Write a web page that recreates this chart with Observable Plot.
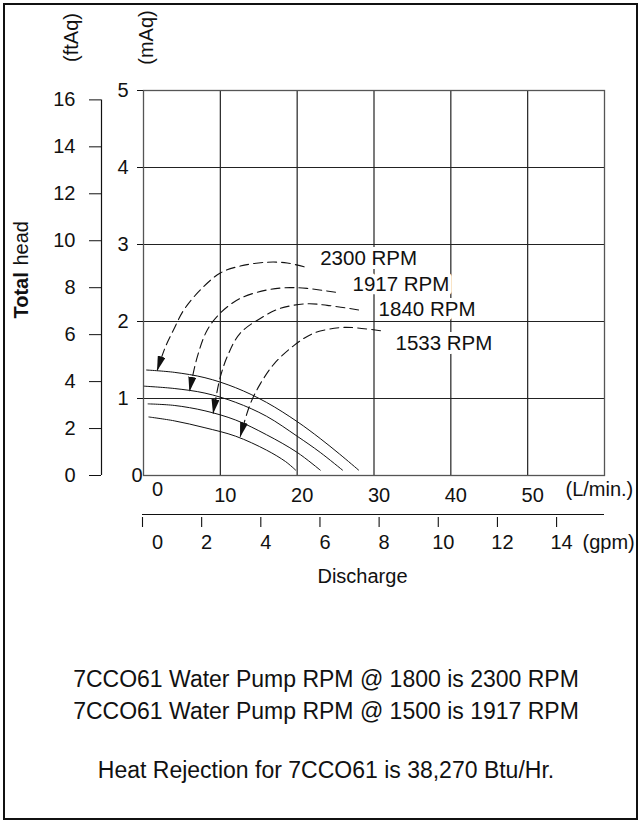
<!DOCTYPE html>
<html><head><meta charset="utf-8">
<script src="https://cdn.jsdelivr.net/npm/d3@7"></script>
<script src="https://cdn.jsdelivr.net/npm/@observablehq/plot@0.6"></script>
<style>
html,body{margin:0;padding:0;background:#fff;}
body{width:642px;height:820px;position:relative;overflow:hidden;font-family:"Liberation Sans",Arial,Helvetica,sans-serif;color:#111;}
.layer{position:absolute;left:0;top:0;}
#border{position:absolute;left:3px;top:3px;width:635px;height:817px;border:2px solid #111;box-sizing:border-box;pointer-events:none;}
.note{position:absolute;left:0;width:652px;text-align:center;font-size:23px;line-height:32px;white-space:nowrap;}
</style></head><body>
<div id="main" class="layer"></div>
<div id="ft" class="layer"></div>
<div id="gpm" class="layer"></div>
<div id="border"></div>
<div id="notes"></div>
<script>
// ---- tick values ----
const lpmTicks = [0, 10, 20, 30, 40, 50];
const gpmTicks = [0, 2, 4, 6, 8, 10, 12, 14];
const mAqTicks = [0, 1, 2, 3, 4, 5];
const ftAqTicks = [0, 2, 4, 6, 8, 10, 12, 14, 16];

// ---- pump curves (discharge L/min, head mAq) ----
const rpmNames = ["2300 RPM", "1917 RPM", "1840 RPM", "1533 RPM"];
const q2300 = [0.4, 4, 8, 12, 16, 20, 23, 25.5, 28.0];
const h2300 = [1.37, 1.34, 1.27, 1.14, 0.95, 0.70, 0.48, 0.28, 0.07];
const q1917 = [0.1, 4, 8, 12, 16, 20, 23, 25.9];
const h1917 = [1.16, 1.13, 1.07, 0.95, 0.77, 0.51, 0.30, 0.07];
const q1840 = [0.6, 4, 8, 12, 16, 20, 23.0];
const h1840 = [0.93, 0.91, 0.84, 0.72, 0.53, 0.30, 0.07];
const q1533 = [0.7, 4, 8, 12, 16, 18.5, 19.8];
const h1533 = [0.76, 0.71, 0.62, 0.51, 0.33, 0.18, 0.07];

// ---- dashed pointer arrows (from label to curve) ----
const aq2300 = [20.9, 18.7, 16.1, 12.6, 10.0, 7.4, 5.25, 3.9, 2.85, 1.8];
const ah2300 = [2.71, 2.76, 2.77, 2.72, 2.63, 2.41, 2.15, 1.89, 1.67, 1.37];
const aq1917 = [25.0, 21.3, 19.1, 16.1, 12.6, 10.0, 8.3, 7.0, 6.0];
const ah1917 = [2.38, 2.43, 2.44, 2.41, 2.30, 2.11, 1.89, 1.54, 1.10];
const aq1840 = [28.0, 23.9, 21.3, 17.8, 15.2, 12.6, 11.1, 10.0, 9.07];
const ah1840 = [2.15, 2.21, 2.23, 2.17, 2.04, 1.85, 1.59, 1.28, 0.81];
const aq1533 = [30.85, 27.4, 25.6, 22.2, 19.6, 17.0, 15.2, 13.9, 12.6];
const ah1533 = [1.88, 1.92, 1.92, 1.85, 1.69, 1.45, 1.19, 0.93, 0.51];

// ---- label anchors ----
const labelQ = [23.0, 27.2, 30.6, 32.8];
const labelH = [2.82, 2.48, 2.155, 1.715];

const notes = [
  "7CCO61 Water Pump RPM @ 1800 is 2300 RPM",
  "7CCO61 Water Pump RPM @ 1500 is 1917 RPM",
  "Heat Rejection for 7CCO61 is 38,270 Btu/Hr."
];

// ---- build tables ----
const curveQ = [q2300, q1917, q1840, q1533];
const curveH = [h2300, h1917, h1840, h1533];
const arrowQ = [aq2300, aq1917, aq1840, aq1533];
const arrowH = [ah2300, ah1917, ah1840, ah1533];
const curves = rpmNames.flatMap((name, i) => curveQ[i].map((q, j) => ({name, q, h: curveH[i][j]})));
const arrows = rpmNames.flatMap((name, i) => arrowQ[i].map((q, j) => ({name, q, h: arrowH[i][j]})));
const labels = rpmNames.map((name, i) => ({name, q: labelQ[i], h: labelH[i]}));

const font = "'Liberation Sans', Arial, Helvetica, sans-serif";
const ink = "#111";
const fmt = d => String(d);
const baseStyle = {fontFamily: font, fontSize: "20px", background: "transparent", overflow: "visible", color: ink};

const main = Plot.plot({
  width: 642, height: 600,
  marginLeft: 143, marginRight: 38, marginTop: 90, marginBottom: 125,
  style: baseStyle,
  x: {domain: [0, 60]},
  y: {domain: [0, 5]},
  marks: [
    Plot.ruleX(lpmTicks.filter(d => d > 0), {x: d => d, stroke: "#222", strokeWidth: 1.2}),
    Plot.ruleY(mAqTicks.filter(d => d > 0 && d < 5), {y: d => d, stroke: "#222", strokeWidth: 1.2}),
    Plot.frame({stroke: "#555", strokeWidth: 1.3}),
    Plot.text(labels, {x: "q", y: "h", text: "name", textAnchor: "start", fontSize: 20.5, fill: ink, stroke: "white", strokeWidth: 8}),
    Plot.line(curves, {x: "q", y: "h", z: "name", curve: "catmull-rom", stroke: ink, strokeWidth: 1}),
    Plot.line(arrows, {x: "q", y: "h", z: "name", curve: "catmull-rom", stroke: ink, strokeWidth: 1.1, strokeDasharray: "9,5"}),
    Plot.axisY(mAqTicks.filter(d => d > 0), {tickSize: 6, tickPadding: 9, tickFormat: fmt, label: null, stroke: ink, fill: ink}),
    Plot.text([0], {y: d => d, text: fmt, frameAnchor: "left", textAnchor: "end", dx: -1, fill: ink}),
    Plot.axisX(lpmTicks.filter(d => d > 0), {tickSize: 0, tickPadding: 12, tickFormat: fmt, dx: 5, label: null, fill: ink}),
    Plot.text([0], {x: d => d, text: fmt, frameAnchor: "bottom", textAnchor: "middle", dy: 20, dx: 14, fill: ink}),
    Plot.text(["(L/min.)"], {text: d => d, frameAnchor: "bottom-right", textAnchor: "start", dx: -39, dy: 20, fill: ink}),
    Plot.text(["(mAq)"], {text: d => d, frameAnchor: "top-left", textAnchor: "middle", rotate: -90, dx: -5, dy: -53, fill: ink})
  ]
});

// filled arrowheads on the dashed pointers
(function addArrowheads(svg) {
  const ns = "http://www.w3.org/2000/svg";
  const defs = document.createElementNS(ns, "defs");
  const m = document.createElementNS(ns, "marker");
  m.setAttribute("id", "ahead");
  m.setAttribute("viewBox", "0 0 15 8");
  m.setAttribute("refX", "14");
  m.setAttribute("refY", "4");
  m.setAttribute("markerWidth", "15");
  m.setAttribute("markerHeight", "8");
  m.setAttribute("markerUnits", "userSpaceOnUse");
  m.setAttribute("orient", "auto");
  const p = document.createElementNS(ns, "path");
  p.setAttribute("d", "M0,0L15,4L0,8Z");
  p.setAttribute("fill", ink);
  p.setAttribute("stroke", "none");
  m.appendChild(p);
  defs.appendChild(m);
  svg.insertBefore(defs, svg.firstChild);
  svg.querySelectorAll("[stroke-dasharray] path").forEach(el => el.setAttribute("marker-end", "url(#ahead)"));
})(main);
document.getElementById("main").appendChild(main);

const ftPlot = Plot.plot({
  width: 642, height: 600,
  marginLeft: 101, marginRight: 0, marginTop: 90, marginBottom: 125,
  style: baseStyle,
  x: {domain: [0, 1], axis: null},
  y: {domain: [0, 16.4]},
  marks: [
    Plot.ruleX([0], {y1: 0, y2: 16, stroke: ink, strokeWidth: 1.2}),
    Plot.axisY(ftAqTicks, {tickSize: 12, tickPadding: 14, tickFormat: fmt, label: null, stroke: ink, fill: ink}),
    Plot.text(["(ftAq)"], {text: d => d, frameAnchor: "top-left", textAnchor: "middle", rotate: -90, dx: -38, dy: -53, fill: ink}),
    Plot.text(["Total"], {text: d => d, frameAnchor: "bottom-left", rotate: -90, textAnchor: "start", dx: -74, dy: -157, fontWeight: "bold", fontSize: 20, fill: ink}),
    Plot.text(["head"], {text: d => d, frameAnchor: "bottom-left", rotate: -90, textAnchor: "start", dx: -74, dy: -210, fontSize: 20, fill: ink})
  ]
});
document.getElementById("ft").appendChild(ftPlot);

const gpmPlot = Plot.plot({
  width: 642, height: 600,
  marginLeft: 142, marginRight: 38, marginTop: 517, marginBottom: 73,
  style: baseStyle,
  x: {domain: [0, 15.62], axis: null},
  y: {domain: [0, 1], axis: null},
  marks: [
    Plot.ruleY([1], {y: d => d, dy: -3, stroke: ink, strokeWidth: 1.2}),
    Plot.tickX(gpmTicks, {x: d => d, stroke: ink, strokeWidth: 1.1}),
    Plot.text(gpmTicks.filter(d => d > 0), {x: d => d, text: fmt, frameAnchor: "bottom", textAnchor: "middle", dy: 21, dx: 5, fill: ink}),
    Plot.text([0], {x: d => d, text: fmt, frameAnchor: "bottom", textAnchor: "middle", dy: 21, dx: 15, fill: ink}),
    Plot.text(["(gpm)"], {text: d => d, frameAnchor: "bottom-right", textAnchor: "start", dx: -22, dy: 21, fill: ink}),
    Plot.text(["Discharge"], {text: d => d, frameAnchor: "bottom", textAnchor: "middle", dx: -11, dy: 55, fontSize: 20, fill: ink})
  ]
});
document.getElementById("gpm").appendChild(gpmPlot);

// notes below the chart
const noteTops = [663, 695, 754];
const notesDiv = document.getElementById("notes");
notes.forEach((t, i) => {
  const d = document.createElement("div");
  d.className = "note";
  d.style.top = noteTops[i] + "px";
  d.textContent = t;
  notesDiv.appendChild(d);
});
</script>
</body></html>
